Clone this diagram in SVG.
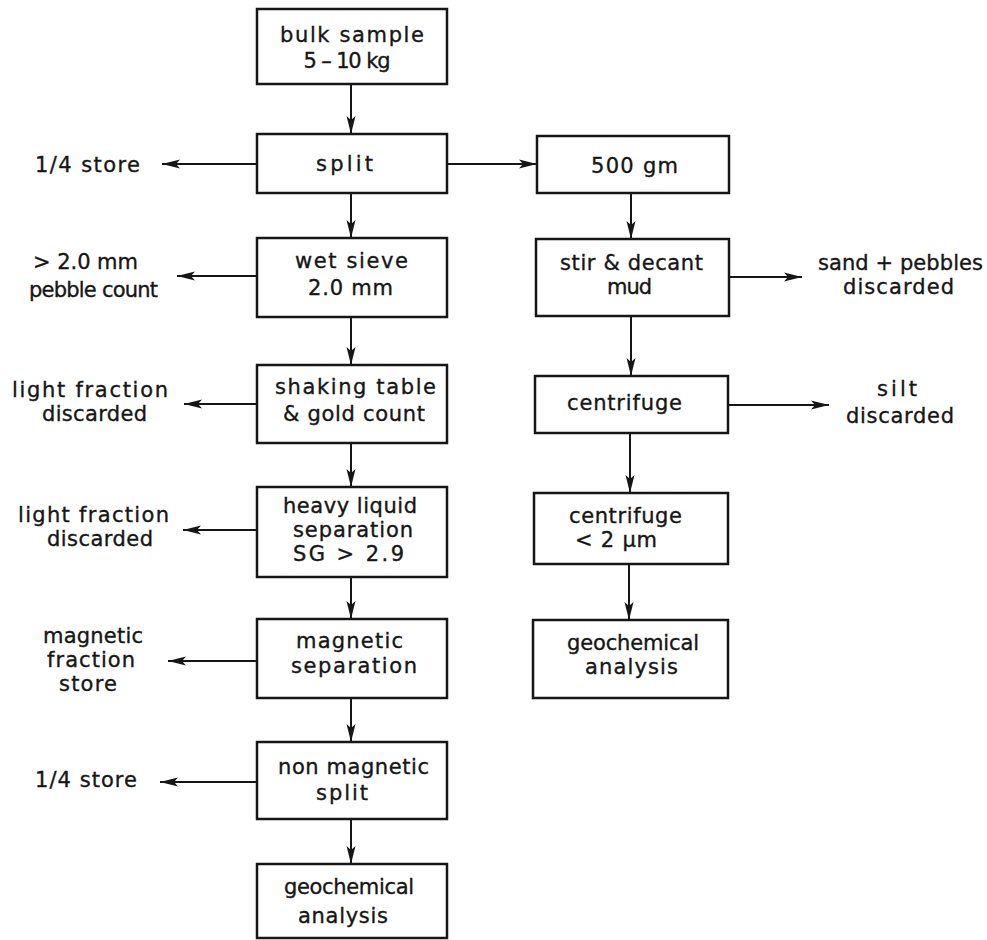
<svg xmlns="http://www.w3.org/2000/svg" width="987" height="940" viewBox="0 0 987 940">
<defs>
<style>
.box{fill:#fff;stroke:#161616;stroke-width:2.5}
.ln{fill:none;stroke:#161616;stroke-width:2;marker-end:url(#ah)}
text{font-family:"DejaVu Sans","Liberation Sans",sans-serif;font-size:21px;fill:#161616;stroke:#161616;stroke-width:0.35;text-anchor:middle}
</style>
<marker id="ah" markerUnits="userSpaceOnUse" markerWidth="20" markerHeight="12" refX="18" refY="6" orient="auto">
<path d="M0,1.5 L18,6 L0,10.5 L4,6 z" fill="#161616"/>
</marker>
</defs>
<rect width="987" height="940" fill="#fff"/>
<g id="connectors">
<line class="ln" x1="351" y1="84" x2="351" y2="134"/>
<line class="ln" x1="351" y1="193" x2="351" y2="238"/>
<line class="ln" x1="351" y1="317" x2="351" y2="365"/>
<line class="ln" x1="351" y1="443" x2="351" y2="487"/>
<line class="ln" x1="351" y1="577" x2="351" y2="619"/>
<line class="ln" x1="351" y1="698" x2="351" y2="742"/>
<line class="ln" x1="351" y1="819" x2="351" y2="864"/>
<line class="ln" x1="447" y1="164" x2="537" y2="164"/>
<line class="ln" x1="257" y1="164" x2="162" y2="164"/>
<line class="ln" x1="257" y1="276" x2="177" y2="276"/>
<line class="ln" x1="257" y1="404" x2="184" y2="404"/>
<line class="ln" x1="257" y1="530" x2="183" y2="530"/>
<line class="ln" x1="257" y1="661" x2="168" y2="661"/>
<line class="ln" x1="257" y1="782" x2="160" y2="782"/>
<line class="ln" x1="631" y1="193" x2="631" y2="239"/>
<line class="ln" x1="631" y1="316" x2="631" y2="376"/>
<line class="ln" x1="630" y1="433" x2="630" y2="493"/>
<line class="ln" x1="629" y1="564" x2="629" y2="620"/>
<line class="ln" x1="729" y1="277" x2="802" y2="277"/>
<line class="ln" x1="728" y1="405" x2="829" y2="405"/>
</g>
<g id="bulk">
<rect class="box" x="257" y="9" width="190" height="75"/>
<text x="352" y="42" textLength="144" lengthAdjust="spacing">bulk sample</text>
<text x="347" y="68" textLength="87" lengthAdjust="spacing">5 – 10 kg</text>
</g>
<g id="split">
<rect class="box" x="257" y="134" width="190" height="59"/>
<text x="344.5" y="171" textLength="57" lengthAdjust="spacing">split</text>
</g>
<g id="store1">
<text x="87.5" y="172" textLength="105" lengthAdjust="spacing">1/4 store</text>
</g>
<g id="g500">
<rect class="box" x="537" y="136" width="192" height="57"/>
<text x="634.5" y="173" textLength="87" lengthAdjust="spacing">500 gm</text>
</g>
<g id="wetsieve">
<rect class="box" x="257" y="238" width="190" height="79"/>
<text x="351.5" y="268" textLength="113" lengthAdjust="spacing">wet sieve</text>
<text x="350.5" y="295" textLength="85" lengthAdjust="spacing">2.0 mm</text>
</g>
<g id="pebble">
<text x="85.5" y="269" textLength="105" lengthAdjust="spacing">&gt; 2.0 mm</text>
<text x="93.5" y="297" textLength="129" lengthAdjust="spacing">pebble count</text>
</g>
<g id="stir">
<rect class="box" x="536" y="239" width="193" height="77"/>
<text x="631.5" y="270" textLength="143" lengthAdjust="spacing">stir &amp; decant</text>
<text x="629.5" y="294" textLength="45" lengthAdjust="spacing">mud</text>
</g>
<g id="sand">
<text x="900.5" y="270" textLength="165" lengthAdjust="spacing">sand + pebbles</text>
<text x="898.5" y="294" textLength="111" lengthAdjust="spacing">discarded</text>
</g>
<g id="shaking">
<rect class="box" x="257" y="365" width="190" height="78"/>
<text x="355.5" y="394" textLength="161" lengthAdjust="spacing">shaking table</text>
<text x="354" y="421" textLength="142" lengthAdjust="spacing">&amp; gold count</text>
</g>
<g id="light1">
<text x="90" y="397" textLength="156" lengthAdjust="spacing">light fraction</text>
<text x="94.5" y="421" textLength="105" lengthAdjust="spacing">discarded</text>
</g>
<g id="centrifuge1">
<rect class="box" x="535" y="376" width="193" height="57"/>
<text x="624.5" y="410" textLength="115" lengthAdjust="spacing">centrifuge</text>
</g>
<g id="silt">
<text x="897" y="396" textLength="40" lengthAdjust="spacing">silt</text>
<text x="900" y="423" textLength="108" lengthAdjust="spacing">discarded</text>
</g>
<g id="heavy">
<rect class="box" x="257" y="487" width="190" height="90"/>
<text x="350" y="513" textLength="134" lengthAdjust="spacing">heavy liquid</text>
<text x="353" y="537" textLength="120" lengthAdjust="spacing">separation</text>
<text x="348.5" y="561" textLength="111" lengthAdjust="spacing">SG &gt; 2.9</text>
</g>
<g id="light2">
<text x="93.5" y="522" textLength="151" lengthAdjust="spacing">light fraction</text>
<text x="100" y="546" textLength="106" lengthAdjust="spacing">discarded</text>
</g>
<g id="centrifuge2">
<rect class="box" x="534" y="493" width="194" height="71"/>
<text x="625.5" y="523" textLength="113" lengthAdjust="spacing">centrifuge</text>
<text x="616" y="547" textLength="82" lengthAdjust="spacing">&lt; 2 μm</text>
</g>
<g id="magnetic">
<rect class="box" x="257" y="619" width="190" height="79"/>
<text x="349.5" y="648" textLength="107" lengthAdjust="spacing">magnetic</text>
<text x="354" y="673" textLength="126" lengthAdjust="spacing">separation</text>
</g>
<g id="magstore">
<text x="93" y="643" textLength="100" lengthAdjust="spacing">magnetic</text>
<text x="91" y="667" textLength="88" lengthAdjust="spacing">fraction</text>
<text x="88" y="691" textLength="58" lengthAdjust="spacing">store</text>
</g>
<g id="geochemR">
<rect class="box" x="533" y="620" width="195" height="78"/>
<text x="633" y="650" textLength="132" lengthAdjust="spacing">geochemical</text>
<text x="631.5" y="674" textLength="93" lengthAdjust="spacing">analysis</text>
</g>
<g id="nonmag">
<rect class="box" x="257" y="742" width="190" height="77"/>
<text x="353.5" y="774" textLength="151" lengthAdjust="spacing">non magnetic</text>
<text x="342" y="800" textLength="52" lengthAdjust="spacing">split</text>
</g>
<g id="store2">
<text x="86" y="787" textLength="102" lengthAdjust="spacing">1/4 store</text>
</g>
<g id="geochemL">
<rect class="box" x="257" y="864" width="190" height="74"/>
<text x="349" y="894" textLength="130" lengthAdjust="spacing">geochemical</text>
<text x="343" y="923" textLength="90" lengthAdjust="spacing">analysis</text>
</g>
</svg>
